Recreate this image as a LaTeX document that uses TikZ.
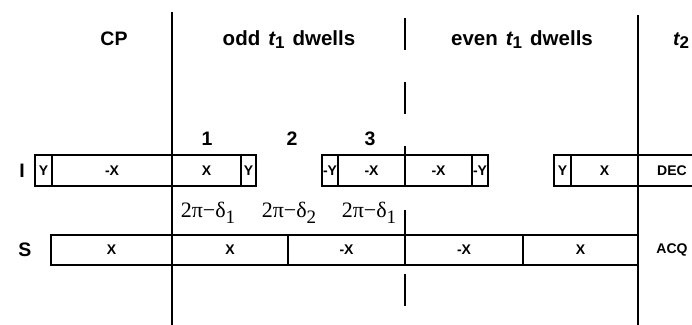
\documentclass[tikz,border=0pt]{standalone}
\usepackage{fontspec}
\setmainfont{Liberation Sans}
\newfontfamily\phasefont{Liberation Serif}
\usetikzlibrary{positioning}

\newcommand{\tsub}[2]{{\itshape #1}\raisebox{-3pt}{\fontsize{17}{17}\selectfont #2}}
\newcommand{\phaselbl}[1]{2π−δ\raisebox{-6pt}{\fontsize{19}{19}\selectfont #1}}
\newcommand{\widespace}{\spaceskip=8pt\relax}

\begin{document}
\begin{tikzpicture}[x=1pt, y=-1pt,
  seg/.style={draw, line width=2.1pt, inner sep=0pt, outer sep=0pt, font=\fontsize{14}{14}\selectfont\bfseries},
  irow/.style={seg, minimum height=31pt},
  srow/.style={seg, minimum height=30pt},
  head/.style={anchor=base, inner sep=0pt, font=\fontsize{19.5}{19.5}\selectfont\bfseries},
  wide/.style={head, font=\fontsize{20.5}{20.5}\selectfont\bfseries\widespace},
  phase/.style={anchor=base, inner sep=0pt, font=\phasefont\fontsize{22}{22}\selectfont},
  tag/.style={inner sep=0pt, font=\fontsize{14}{14}\selectfont\bfseries},
  rule/.style={line width=2.1pt}
]
  \useasboundingbox (0,0) rectangle (692,324);

  % headers
  \node[head] (cp) at (114,45) {CP};
  \node[wide] (odd) at (289,45) {odd \tsub{t}{1} dwells};
  \node[wide] (even) at (522,45) {even \tsub{t}{1} dwells};
  \node[head, anchor=base west] (ttwo) at (673,45) {\tsub{t}{2}};

  % dwell numbers
  \node[head] (n1) at (207,145) {1};
  \node[head] (n2) at (292,145) {2};
  \node[head] (n3) at (370,145) {3};

  % channel labels
  \node[head] (chI) at (22,177) {I};
  \node[head] (chS) at (25,256) {S};

  % I channel
  \node[irow, minimum width=17pt] (iy1) at (43.5,170.5) {Y};
  \node[irow, minimum width=120pt] (imx1) at (112,170.5) {-X};
  \node[irow, minimum width=69pt] (ix1) at (206.5,170.5) {X};
  \node[irow, minimum width=15pt] (iy2) at (248.5,170.5) {Y};
  \node[irow, minimum width=16pt] (imy1) at (330,170.5) {-Y};
  \node[irow, minimum width=67pt] (imx2) at (371.5,170.5) {-X};
  \node[irow, minimum width=67pt] (imx3) at (438.5,170.5) {-X};
  \node[irow, minimum width=16pt] (imy2) at (480,170.5) {-Y};
  \node[irow, minimum width=17pt] (iy3) at (562.5,170.5) {Y};
  \node[irow, minimum width=67pt] (ix2) at (604.5,170.5) {X};
  \node[irow, minimum width=68pt] (dec) at (672,170.5) {DEC};

  % phase labels
  \node[phase] (ph1) at (208,217) {\phaselbl{1}};
  \node[phase] (ph2) at (289,217) {\phaselbl{2}};
  \node[phase] (ph3) at (369,217) {\phaselbl{1}};

  % S channel
  \node[srow, minimum width=121pt] (sx1) at (111.5,250) {X};
  \node[srow, minimum width=116pt] (sx2) at (230,250) {X};
  \node[srow, minimum width=117pt] (smx1) at (346.5,250) {-X};
  \node[srow, minimum width=118pt] (smx2) at (464,250) {-X};
  \node[srow, minimum width=115pt] (sx3) at (580.5,250) {X};
  \node[tag] (acq) at (672,250) {ACQ};

  % period boundaries
  \coordinate (cptop) at (172,12);
  \coordinate (cpbot) at (172,326);
  \coordinate (midtop) at (405,18);
  \coordinate (midbot) at (405,306);
  \coordinate (acqtop) at (638,15);
  \coordinate (acqbot) at (638,326);
  \draw[rule] (cptop) -- (cpbot);
  \draw[rule, dash pattern=on 32pt off 32pt] (midtop) -- (midbot);
  \draw[rule] (acqtop) -- (acqbot);
\end{tikzpicture}
\end{document}
